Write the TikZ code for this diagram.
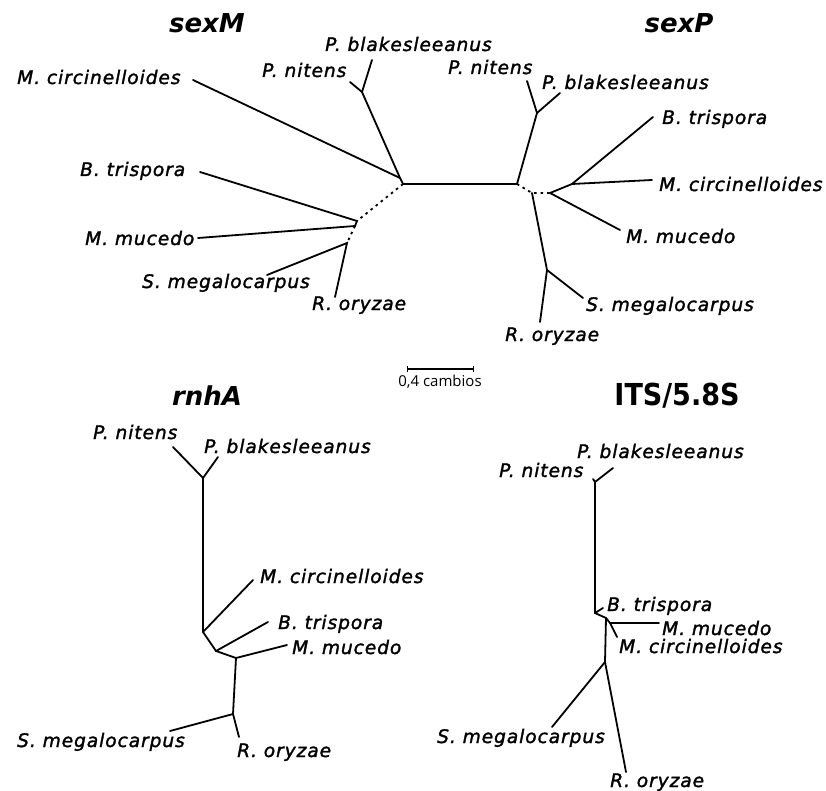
\documentclass[tikz,border=0pt]{standalone}
\usepackage{fontspec}
\setmainfont{DejaVu Sans}
\newfontfamily\taxonfont[LetterSpace=5, FakeBold=1.6]{DejaVu Sans}
\newfontfamily\barfont{Open Sans}
\usetikzlibrary{arrows.meta}

\tikzset{
	branch/.style={line width=1.8pt, line cap=round},
	gap/.style={line width=1.8pt, dash pattern=on 2.5pt off 4pt},
	taxon/.style={anchor=base west, inner sep=0, font=\taxonfont\itshape\fontsize{18.6}{18.6}\selectfont},
	gene/.style={anchor=base, inner sep=0, font=\bfseries\itshape\fontsize{26}{26}\selectfont},
}

\begin{document}
\begin{tikzpicture}[x=1pt, y=-1pt]
	\useasboundingbox (0, 0) rectangle (826, 791);
	% Titles:
	\node[gene] (T1) at (207, 33) {sexM};
	\node[gene] (T2) at (679, 33) {sexP};
	\node[gene] (T3) at (207, 405) {rnhA};
	\node[gene, font=\bfseries\fontsize{27}{27}\selectfont, yscale=1.12] (T4) at (677, 405) {ITS/5.8S};
	% Scale bar:
	\coordinate (Bar1) at (407, 369);
	\coordinate (Bar2) at (474, 369);
	\draw[line width=1.4pt, {Bar[width=6pt]}-{Bar[width=6pt]}] (Bar1) -- (Bar2);
	\node[anchor=base, inner sep=0, font=\barfont\fontsize{15}{15}\selectfont] (BarText) at (440, 386) {0,4 cambios};

	% sexM tree:
	\coordinate (M1) at (403, 184);
	\coordinate (M2) at (400, 178);
	\coordinate (M3) at (362, 92);
	\coordinate (M4) at (357, 221);
	\coordinate (M5) at (355, 226);
	\coordinate (M6) at (347, 243);
	\coordinate (Mbla) at (372, 60);
	\coordinate (Mnit) at (350, 82);
	\coordinate (Mcir) at (193, 80);
	\coordinate (Mtri) at (200, 172);
	\coordinate (Mmuc) at (198, 238);
	\coordinate (Mmeg) at (267, 275);
	\coordinate (Mory) at (335, 297);
	\draw[branch] (M1) -- (M2) -- (M3) -- (Mbla);
	\draw[branch] (M3) -- (Mnit);
	\draw[branch] (M2) -- (Mcir);
	\draw[gap] (M1) -- (M4);
	\draw[branch] (Mtri) -- (M4) -- (M5) -- (Mmuc);
	\draw[gap] (M5) -- (M6);
	\draw[branch] (Mmeg) -- (M6) -- (Mory);
	\node[taxon] (MTbla) at (325, 51) {P. blakesleeanus};
	\node[taxon] (MTnit) at (262, 77) {P. nitens};
	\node[taxon] (MTcir) at (17, 84) {M. circinelloides};
	\node[taxon] (MTtri) at (80, 176) {B. trispora};
	\node[taxon] (MTmuc) at (85, 245) {M. mucedo};
	\node[taxon] (MTmeg) at (142, 288) {S. megalocarpus};
	\node[taxon] (MTory) at (312, 310) {R. oryzae};

	% sexP tree:
	\coordinate (P1) at (517, 184);
	\coordinate (P2) at (537, 113);
	\coordinate (P3) at (532, 193);
	\coordinate (P4) at (547, 270);
	\coordinate (P5) at (550, 193);
	\coordinate (P6) at (572, 184);
	\coordinate (Pnit) at (527, 81);
	\coordinate (Pbla) at (560, 93);
	\coordinate (Ptri) at (653, 117);
	\coordinate (Pcir) at (652, 180);
	\coordinate (Pmuc) at (620, 230);
	\coordinate (Pmeg) at (583, 298);
	\coordinate (Pory) at (540, 322);
	\draw[branch] (M1) -- (P1) -- (P2) -- (Pnit);
	\draw[branch] (P2) -- (Pbla);
	\draw[gap] (P1) -- (P3) -- (P5);
	\draw[branch] (P3) -- (P4) -- (Pmeg);
	\draw[branch] (P4) -- (Pory);
	\draw[branch] (P5) -- (P6) -- (Ptri);
	\draw[branch] (P6) -- (Pcir);
	\draw[branch] (P5) -- (Pmuc);
	\node[taxon] (PTnit) at (448, 74) {P. nitens};
	\node[taxon] (PTbla) at (542, 89) {P. blakesleeanus};
	\node[taxon] (PTtri) at (662, 124) {B. trispora};
	\node[taxon] (PTcir) at (659, 191) {M. circinelloides};
	\node[taxon] (PTmuc) at (626, 243) {M. mucedo};
	\node[taxon] (PTmeg) at (586, 311) {S. megalocarpus};
	\node[taxon] (PTory) at (505, 341) {R. oryzae};

	% rnhA tree:
	\coordinate (R1) at (203, 478);
	\coordinate (R2) at (203, 632);
	\coordinate (R3) at (216, 651);
	\coordinate (R4) at (236, 658);
	\coordinate (R5) at (233, 714);
	\coordinate (Rnit) at (173, 447);
	\coordinate (Rbla) at (218, 457);
	\coordinate (Rcir) at (253, 580);
	\coordinate (Rtri) at (268, 622);
	\coordinate (Rmuc) at (287, 645);
	\coordinate (Rmeg) at (170, 731);
	\coordinate (Rory) at (239, 737);
	\draw[branch] (Rnit) -- (R1) -- (Rbla);
	\draw[branch] (R1) -- (R2) -- (R3) -- (R4) -- (R5) -- (Rmeg);
	\draw[branch] (R2) -- (Rcir);
	\draw[branch] (R3) -- (Rtri);
	\draw[branch] (R4) -- (Rmuc);
	\draw[branch] (R5) -- (Rory);
	\node[taxon] (RTnit) at (93, 439) {P. nitens};
	\node[taxon] (RTbla) at (204, 453) {P. blakesleeanus};
	\node[taxon] (RTcir) at (260, 583) {M. circinelloides};
	\node[taxon] (RTtri) at (278, 629) {B. trispora};
	\node[taxon] (RTmuc) at (292, 654) {M. mucedo};
	\node[taxon] (RTmeg) at (17, 747) {S. megalocarpus};
	\node[taxon] (RTory) at (237, 757) {R. oryzae};

	% ITS/5.8S tree:
	\coordinate (I1) at (595, 482);
	\coordinate (I2) at (595, 613);
	\coordinate (I3) at (606, 618);
	\coordinate (I4) at (610, 623);
	\coordinate (I5) at (605, 662);
	\coordinate (Init) at (593, 479);
	\coordinate (Ibla) at (613, 468);
	\coordinate (Itri) at (603, 608);
	\coordinate (Imuc) at (659, 623);
	\coordinate (Icir) at (617, 637);
	\coordinate (Imeg) at (552, 727);
	\coordinate (Iory) at (626, 772);
	\draw[branch] (Init) -- (I1) -- (Ibla);
	\draw[branch] (I1) -- (I2) -- (I3) -- (I4) -- (Imuc);
	\draw[branch] (I2) -- (Itri);
	\draw[branch] (I4) -- (Icir);
	\draw[branch] (I3) -- (I5) -- (Imeg);
	\draw[branch] (I5) -- (Iory);
	\node[taxon] (ITbla) at (577, 458) {P. blakesleeanus};
	\node[taxon] (ITnit) at (499, 477) {P. nitens};
	\node[taxon] (ITtri) at (607, 611) {B. trispora};
	\node[taxon] (ITmuc) at (662, 635) {M. mucedo};
	\node[taxon] (ITcir) at (619, 653) {M. circinelloides};
	\node[taxon] (ITmeg) at (437, 743) {S. megalocarpus};
	\node[taxon] (ITory) at (610, 787) {R. oryzae};
\end{tikzpicture}
\end{document}
